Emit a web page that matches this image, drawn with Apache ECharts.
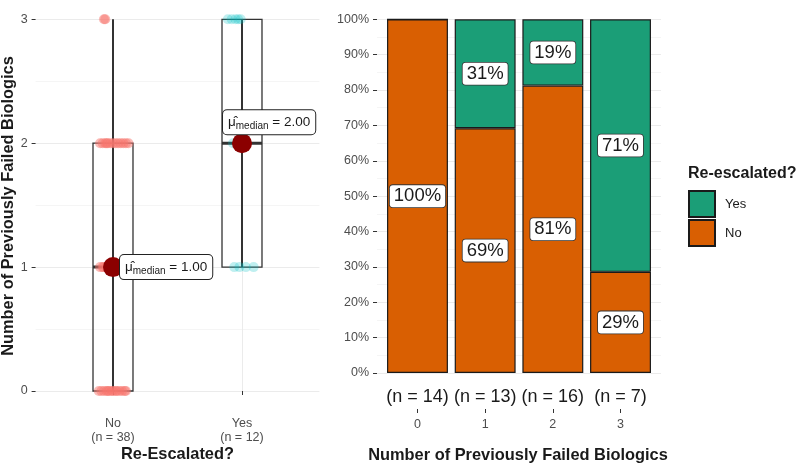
<!DOCTYPE html>
<html><head><meta charset="utf-8">
<script src="https://cdn.jsdelivr.net/npm/echarts@6/dist/echarts.min.js"></script>
<style>html,body{margin:0;padding:0;background:#fff}#c{width:800px;height:465px}</style>
</head><body><div id="c"></div>
<script>
// ---------- data ----------
const groups = ['No', 'Yes'];
const groupN = [38, 12];
// [x, min, Q1, median, Q3, max]
const boxNo = [1, 0, 0, 1, 2, 3];
const boxYes = [2, 1, 1, 2, 3, 3];
const medianValues = [1.00, 2.00];
// jittered raw points [x, y]
const pointsNo = [
  [0.89,0],[0.91,0],[0.93,0],[0.95,0],[0.96,0],[0.97,0],[0.99,0],[1.00,0],[1.02,0],[1.03,0],[1.05,0],[1.07,0],[1.09,0],[1.10,0],
  [0.90,1],[0.92,1],[0.93,1],[0.95,1],[0.98,1],[1.00,1],[1.02,1],[1.04,1],[1.06,1],
  [0.90,2],[0.92,2],[0.94,2],[0.95,2],[0.96,2],[0.98,2],[1.00,2],[1.02,2],[1.04,2],[1.06,2],[1.08,2],[1.10,2],[1.12,2],
  [0.93,3],[0.94,3]
];
const pointsYes = [
  [1.89,3],[1.92,3],[1.95,3],[1.97,3],[1.99,3],
  [1.93,2],[1.98,2],[2.03,2],
  [1.94,1],[1.98,1],[2.03,1],[2.09,1]
];
const failCats = ['0', '1', '2', '3'];
const failN = [14, 13, 16, 7];
const pctNo = [100, 69.2, 81.25, 28.6];
const pctYes = [0, 30.8, 18.75, 71.4];

// ---------- chart ----------
const FONT = 'Liberation Sans';
const chart = echarts.init(document.getElementById('c'), null, {renderer: 'canvas'});

const L = {left: 35.6, top: 19.3, width: 283.8, height: 371.7};
const RP = {left: 377, top: 19.3, width: 284, height: 353.7};      // panel (gridlines, y labels)
const RB = {left: 383.65, top: 19.3, width: 270.7, height: 353.7}; // bars band area

function medianLabel(v) {
  return '{mu|\u03BC\u0302}{sub|median}{eq| = ' + v.toFixed(2) + '}';
}
const barLabel = {
  show: true, position: 'inside', formatter: p => Math.round(p.value) + '%',
  fontFamily: FONT, fontSize: 18.5, color: '#1a1a1a',
  backgroundColor: '#fff', borderColor: '#333', borderWidth: 0.8, borderRadius: 3, padding: [2, 4, 1, 4]
};
const TITLE_FONT = 'bold 16.4px "Liberation Sans"';

const option = {
  animation: false,
  backgroundColor: '#fff',
  textStyle: {fontFamily: FONT},
  title: {
    text: 'Re-escalated?', left: 688, top: 166, padding: 0,
    textStyle: {fontFamily: FONT, fontWeight: 'bold', fontSize: 16, color: '#1a1a1a'}
  },
  legend: {
    data: ['Yes', 'No'], orient: 'vertical', left: 688, top: 190, padding: 0,
    itemWidth: 26, itemHeight: 26, itemGap: 1, icon: 'rect',
    textStyle: {fontFamily: FONT, fontSize: 13, color: '#1a1a1a', padding: [0, 0, 0, 5]}
  },
  grid: [
    Object.assign({}, L),
    Object.assign({}, RB),
    Object.assign({}, RP)
  ],
  xAxis: [
    {
      type: 'value', gridIndex: 0, min: 0.4, max: 2.6, offset: 19,
      axisLine: {show: false},
      splitLine: {show: false},
      axisTick: {show: true, customValues: [1, 2], length: 4, lineStyle: {color: '#333'}},
      axisLabel: {
        customValues: [1, 2], margin: 7, color: '#4d4d4d', fontSize: 12.5, lineHeight: 14,
        formatter: v => { const i = Math.round(v) - 1; return groups[i] + '\n(n = ' + groupN[i] + ')'; }
      }
    },
    {
      type: 'category', gridIndex: 1, data: failCats, position: 'bottom',
      axisLine: {show: false}, axisTick: {show: false},
      axisLabel: {margin: 15, interval: 0, hideOverlap: false, color: '#1a1a1a', fontSize: 18,
        formatter: (v, i) => '(n = ' + failN[i] + ')'}
    },
    {
      type: 'category', gridIndex: 1, data: failCats, position: 'bottom', offset: 36,
      axisLine: {show: false},
      axisTick: {show: true, alignWithLabel: true, interval: 0, length: 4, lineStyle: {color: '#333'}},
      axisLabel: {margin: 9, interval: 0, color: '#4d4d4d', fontSize: 12.5}
    },
    {
      type: 'value', gridIndex: 2, min: 0, max: 1, show: false
    }
  ],
  yAxis: [
    {
      type: 'value', gridIndex: 0, min: 0, max: 3, interval: 1,
      axisLine: {show: false},
      axisTick: {show: true, length: 4, lineStyle: {color: '#333'}},
      axisLabel: {margin: 8, color: '#4d4d4d', fontSize: 12.5},
      splitLine: {show: true, lineStyle: {color: '#ebebeb', width: 1}},
      minorTick: {show: false, splitNumber: 2},
      minorSplitLine: {show: true, lineStyle: {color: '#f5f5f5', width: 1}}
    },
    {
      type: 'value', gridIndex: 1, min: 0, max: 100, interval: 10, show: false,
      splitLine: {show: false}
    },
    {
      type: 'value', gridIndex: 2, min: 0, max: 100, interval: 10,
      axisLine: {show: false},
      axisTick: {show: true, length: 4, lineStyle: {color: '#333'}},
      axisLabel: {margin: 8, color: '#4d4d4d', fontSize: 12.5, formatter: v => v + '%'},
      splitLine: {show: true, lineStyle: {color: '#ebebeb', width: 1}},
      minorTick: {show: false, splitNumber: 2},
      minorSplitLine: {show: true, lineStyle: {color: '#f5f5f5', width: 1}}
    }
  ],
  graphic: [
    {type: 'text', x: 8, y: 206, rotation: Math.PI / 2,
      style: {text: 'Number of Previously Failed Biologics', font: TITLE_FONT, fill: '#1a1a1a', textAlign: 'center', textVerticalAlign: 'middle'}},
    {type: 'text', x: 177.5, y: 454,
      style: {text: 'Re-Escalated?', font: TITLE_FONT, fill: '#1a1a1a', textAlign: 'center', textVerticalAlign: 'middle'}},
    {type: 'text', x: 518, y: 455,
      style: {text: 'Number of Previously Failed Biologics', font: TITLE_FONT, fill: '#1a1a1a', textAlign: 'center', textVerticalAlign: 'middle'}}
  ],
  series: [
    {
      type: 'custom', xAxisIndex: 0, yAxisIndex: 0, clip: false, silent: true, z: 2,
      data: [boxNo, boxYes],
      encode: {x: 0, y: [1, 2, 3, 4, 5]},
      renderItem: function (params, api) {
        const x = api.value(0), mn = api.value(1), q1 = api.value(2), md = api.value(3), q3 = api.value(4), mx = api.value(5);
        const half = 0.155;
        const tl = api.coord([x - half, q3]);
        const br = api.coord([x + half, q1]);
        const c = api.coord([x, md]);
        const top = api.coord([x, mx]);
        const bot = api.coord([x, mn]);
        return {type: 'group', children: [
          {type: 'line', shape: {x1: c[0], y1: top[1], x2: c[0], y2: bot[1]}, style: {stroke: '#333', lineWidth: 2}},
          {type: 'rect', shape: {x: tl[0], y: tl[1], width: br[0] - tl[0], height: br[1] - tl[1]}, style: {fill: 'none', stroke: '#333', lineWidth: 1.3}},
          {type: 'line', shape: {x1: tl[0], y1: c[1], x2: br[0], y2: c[1]}, style: {stroke: '#333', lineWidth: 3}}
        ]};
      },
      markLine: {
        silent: true, symbol: 'none', label: {show: false}, z: 0,
        lineStyle: {color: '#ebebeb', width: 1, type: 'solid'},
        data: [{xAxis: 1}, {xAxis: 2}]
      }
    },
    {
      type: 'scatter', xAxisIndex: 0, yAxisIndex: 0, clip: false, silent: true, z: 3,
      data: pointsNo, symbolSize: 10,
      itemStyle: {color: '#F8766D', opacity: 0.5}
    },
    {
      type: 'scatter', xAxisIndex: 0, yAxisIndex: 0, clip: false, silent: true, z: 3,
      data: pointsYes, symbolSize: 10,
      itemStyle: {color: '#00BFC4', opacity: 0.25}
    },
    {
      type: 'scatter', xAxisIndex: 0, yAxisIndex: 0, clip: false, silent: true, z: 5,
      symbolSize: 20, itemStyle: {color: '#8B0000', opacity: 1},
      data: [
        {value: [1, medianValues[0]], label: {position: [17, -2]}},
        {value: [2, medianValues[1]], label: {position: [-9, -23]}}
      ],
      label: {
        show: true, align: 'left', verticalAlign: 'top',
        formatter: p => medianLabel(p.value[1]),
        backgroundColor: '#fff', borderColor: '#222', borderWidth: 1, borderRadius: 4,
        padding: [3, 5, 3, 5],
        rich: {
          mu: {fontFamily: FONT, fontSize: 13.5, color: '#1a1a1a', lineHeight: 18},
          sub: {fontFamily: FONT, fontSize: 10, color: '#1a1a1a', lineHeight: 12, verticalAlign: 'bottom'},
          eq: {fontFamily: FONT, fontSize: 13.5, color: '#1a1a1a', lineHeight: 18}
        }
      }
    },
    {
      name: 'No', type: 'bar', xAxisIndex: 1, yAxisIndex: 1, stack: 'p', barWidth: '90%',
      itemStyle: {color: '#D95F02', borderColor: '#1a1a1a', borderWidth: 1.2},
      data: pctNo.map(v => ({value: v, label: {show: v > 0}})),
      label: barLabel
    },
    {
      name: 'Yes', type: 'bar', xAxisIndex: 1, yAxisIndex: 1, stack: 'p', barWidth: '90%',
      itemStyle: {color: '#1B9E77', borderColor: '#1a1a1a', borderWidth: 1.2},
      data: pctYes.map(v => ({value: v, label: {show: v > 0}})),
      label: barLabel
    }
  ]
};
chart.setOption(option);
</script>
</body></html>
